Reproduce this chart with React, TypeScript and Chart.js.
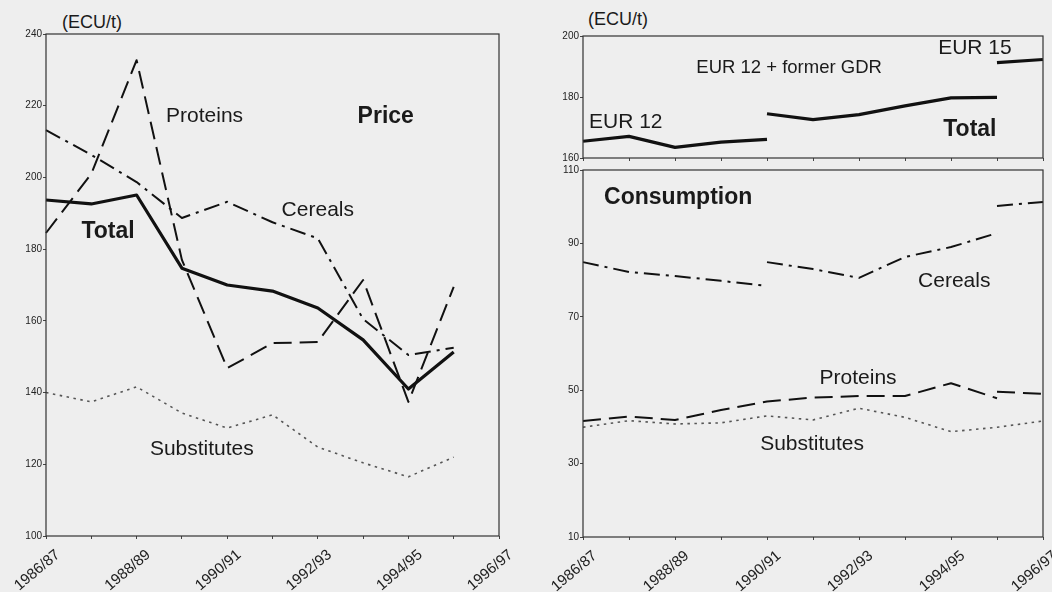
import React, { useEffect, useRef } from 'react';
import { Chart, registerables } from 'chart.js';

Chart.register(...registerables);

const FONT = '"Liberation Sans", Arial, Helvetica, sans-serif';

// Marketing years (x axis categories)
const seasons = [
  '1986/87', '1987/88', '1988/89', '1989/90', '1990/91', '1991/92',
  '1992/93', '1993/94', '1994/95', '1995/96', '1996/97',
];

// ---- Price panel (ECU/t) ----
const priceTotal = [193.7, 192.6, 195.1, 174.7, 170.0, 168.3, 163.6, 154.7, 141.0, 151.3, null];
const priceCereals = [213.2, 206.3, 198.7, 188.7, 193.2, 187.5, 183.0, 160.5, 150.5, 152.5, null];
const priceProteins = [184.5, 201.0, 232.7, 177.0, 146.8, 153.8, 154.1, 171.4, 137.4, 169.5, null];
const priceSubstitutes = [140.0, 137.4, 141.6, 134.3, 130.1, 133.8, 124.8, 120.4, 116.5, 122.0, null];

// ---- Total consumption panel ----
const totalEur12 = [165.5, 167.1, 163.5, 165.2, 166.1, null, null, null, null, null, null];
const totalEur12Gdr = [null, null, null, null, 174.5, 172.6, 174.2, 177.1, 179.7, 179.9, null];
const totalEur15 = [null, null, null, null, null, null, null, null, null, 191.3, 192.3];

// ---- Consumption by product panel ----
const cerealsEur12 = [84.9, 82.2, 81.1, 79.8, 78.4, null, null, null, null, null, null];
const cerealsEur12Gdr = [null, null, null, null, 84.9, 83.0, 80.6, 86.3, 89.0, 92.8, null];
const cerealsEur15 = [null, null, null, null, null, null, null, null, null, 100.2, 101.3];
const proteinsCons = [41.6, 42.8, 41.9, 44.6, 46.9, 48.0, 48.4, 48.4, 51.9, 47.8, null];
const proteinsEur15 = [null, null, null, null, null, null, null, null, null, 49.6, 49.0];
const substitutesCons = [39.9, 41.7, 40.8, 41.1, 43.0, 41.9, 45.1, 42.6, 38.7, 39.9, 41.6];

// Axis ranges
const priceAxis = { min: 100, max: 240, step: 20 };
const totalAxis = { min: 160, max: 200, step: 20 };
const consAxis = { min: 10, max: 110, step: 20 };

type Ann = { text: string; x: number; y: number; size: number; bold?: boolean };

// Text annotations (positioned in data coordinates)
const priceAnns: Ann[] = [
  { text: 'Proteins', x: 3.5, y: 217.1, size: 21 },
  { text: 'Price', x: 7.5, y: 216.9, size: 23, bold: true },
  { text: 'Cereals', x: 6.0, y: 190.9, size: 21 },
  { text: 'Total', x: 1.37, y: 184.8, size: 23, bold: true },
  { text: 'Substitutes', x: 3.44, y: 124.3, size: 21 },
];
const totalAnns: Ann[] = [
  { text: 'EUR 12 + former GDR', x: 4.48, y: 189.4, size: 18.5 },
  { text: 'EUR 15', x: 8.52, y: 196.1, size: 21 },
  { text: 'EUR 12', x: 0.93, y: 171.6, size: 21 },
  { text: 'Total', x: 8.41, y: 169.4, size: 23, bold: true },
];
const consAnns: Ann[] = [
  { text: 'Consumption', x: 2.07, y: 102.6, size: 23, bold: true },
  { text: 'Cereals', x: 8.07, y: 79.8, size: 21 },
  { text: 'Proteins', x: 5.98, y: 53.3, size: 21 },
  { text: 'Substitutes', x: 4.98, y: 35.3, size: 21 },
];

const INK = '#111111';
const SOLID = { borderWidth: 3.2, borderDash: [] as number[] };
const DASHDOT = { borderWidth: 2, borderDash: [16, 6, 3, 6] };
const LONGDASH = { borderWidth: 2, borderDash: [18, 8] };
const DOTTED = { borderWidth: 1.6, borderDash: [2.5, 4.5], borderColor: '#555555' };

function ds(data: (number | null)[], style: any) {
  return {
    data,
    borderColor: INK,
    backgroundColor: INK,
    pointRadius: 0,
    fill: false,
    spanGaps: false,
    tension: 0,
    borderCapStyle: 'butt',
    borderJoinStyle: 'round',
    ...style,
  };
}

function framePlugin(anns: Ann[]) {
  return {
    id: 'frameText',
    afterDatasetsDraw(chart: any) {
      const { ctx, chartArea: a, scales } = chart;
      ctx.save();
      ctx.strokeStyle = '#333333';
      ctx.lineWidth = 1.2;
      ctx.strokeRect(a.left, a.top, a.right - a.left, a.bottom - a.top);
      ctx.fillStyle = '#1a1a1a';
      ctx.textAlign = 'center';
      ctx.textBaseline = 'middle';
      for (const t of anns) {
        ctx.font = `${t.bold ? 'bold ' : ''}${t.size}px ${FONT}`;
        ctx.fillText(t.text, scales.x.getPixelForValue(t.x), scales.y.getPixelForValue(t.y));
      }
      ctx.restore();
    },
  };
}

function buildConfig(opts: {
  datasets: any[];
  axis: { min: number; max: number; step: number };
  showX: boolean;
  yWidth: number;
  xHeight: number;
  padTop: number;
  padRight: number;
  anns: Ann[];
}) {
  return {
    type: 'line',
    data: { labels: seasons, datasets: opts.datasets },
    options: {
      animation: false,
      responsive: false,
      devicePixelRatio: 1,
      layout: { padding: { top: opts.padTop, right: opts.padRight, left: 0, bottom: 0 } },
      plugins: { legend: { display: false }, tooltip: { enabled: false }, title: { display: false } },
      scales: {
        x: {
          type: 'category',
          offset: false,
          border: { display: false },
          grid: { display: true, drawOnChartArea: false, drawTicks: true, tickLength: 3, color: '#444444' },
          ticks: {
            display: opts.showX,
            autoSkip: false,
            minRotation: 40,
            maxRotation: 40,
            labelOffset: 12,
            padding: 7,
            color: '#222222',
            font: { family: FONT, size: 15 },
            callback: (_v: any, i: number) => (i % 2 === 0 ? seasons[i] : ''),
          },
          afterFit: (s: any) => {
            s.height = opts.xHeight;
          },
        },
        y: {
          type: 'linear',
          min: opts.axis.min,
          max: opts.axis.max,
          border: { display: false },
          grid: { display: true, drawOnChartArea: false, drawTicks: true, tickLength: 3, color: '#444444' },
          ticks: {
            stepSize: opts.axis.step,
            padding: 1,
            color: '#222222',
            font: { family: FONT, size: 10 },
          },
          afterFit: (s: any) => {
            s.width = opts.yWidth;
          },
        },
      },
    },
    plugins: [framePlugin(opts.anns)],
  };
}

function ChartCanvas(props: { config: any; left: number; top: number; width: number; height: number }) {
  const ref = useRef<HTMLCanvasElement>(null);
  useEffect(() => {
    const chart = new Chart(ref.current as HTMLCanvasElement, props.config);
    return () => chart.destroy();
  }, []);
  return (
    <canvas
      ref={ref}
      width={props.width}
      height={props.height}
      style={{ position: 'absolute', left: props.left, top: props.top, width: props.width, height: props.height }}
    />
  );
}

const unitStyle: React.CSSProperties = {
  position: 'absolute',
  fontFamily: FONT,
  fontSize: 18,
  lineHeight: 1,
  color: '#1a1a1a',
  whiteSpace: 'nowrap',
};

export default function App() {
  useEffect(() => {
    document.body.style.margin = '0';
  }, []);

  const priceConfig = buildConfig({
    datasets: [
      ds(priceSubstitutes, DOTTED),
      ds(priceCereals, DASHDOT),
      ds(priceProteins, LONGDASH),
      ds(priceTotal, SOLID),
    ],
    axis: priceAxis,
    showX: true,
    yWidth: 66,
    xHeight: 56,
    padTop: 34,
    padRight: 31,
    anns: priceAnns,
  });

  const totalConfig = buildConfig({
    datasets: [ds(totalEur12, SOLID), ds(totalEur12Gdr, SOLID), ds(totalEur15, SOLID)],
    axis: totalAxis,
    showX: false,
    yWidth: 63,
    xHeight: 6,
    padTop: 36,
    padRight: 27,
    anns: totalAnns,
  });

  const consConfig = buildConfig({
    datasets: [
      ds(substitutesCons, DOTTED),
      ds(proteinsCons, LONGDASH),
      ds(proteinsEur15, LONGDASH),
      ds(cerealsEur12, DASHDOT),
      ds(cerealsEur12Gdr, DASHDOT),
      ds(cerealsEur15, DASHDOT),
    ],
    axis: consAxis,
    showX: true,
    yWidth: 63,
    xHeight: 55,
    padTop: 10,
    padRight: 27,
    anns: consAnns,
  });

  return (
    <div
      style={{
        position: 'absolute',
        left: 0,
        top: 0,
        width: 1052,
        height: 592,
        background: '#eeeeee',
        overflow: 'hidden',
      }}
    >
      <div style={{ ...unitStyle, left: 62, top: 13 }}>(ECU/t)</div>
      <div style={{ ...unitStyle, left: 588, top: 10 }}>(ECU/t)</div>
      <ChartCanvas config={priceConfig} left={-20} top={0} width={550} height={592} />
      <ChartCanvas config={totalConfig} left={520} top={0} width={550} height={165} />
      <ChartCanvas config={consConfig} left={520} top={160} width={550} height={432} />
    </div>
  );
}
